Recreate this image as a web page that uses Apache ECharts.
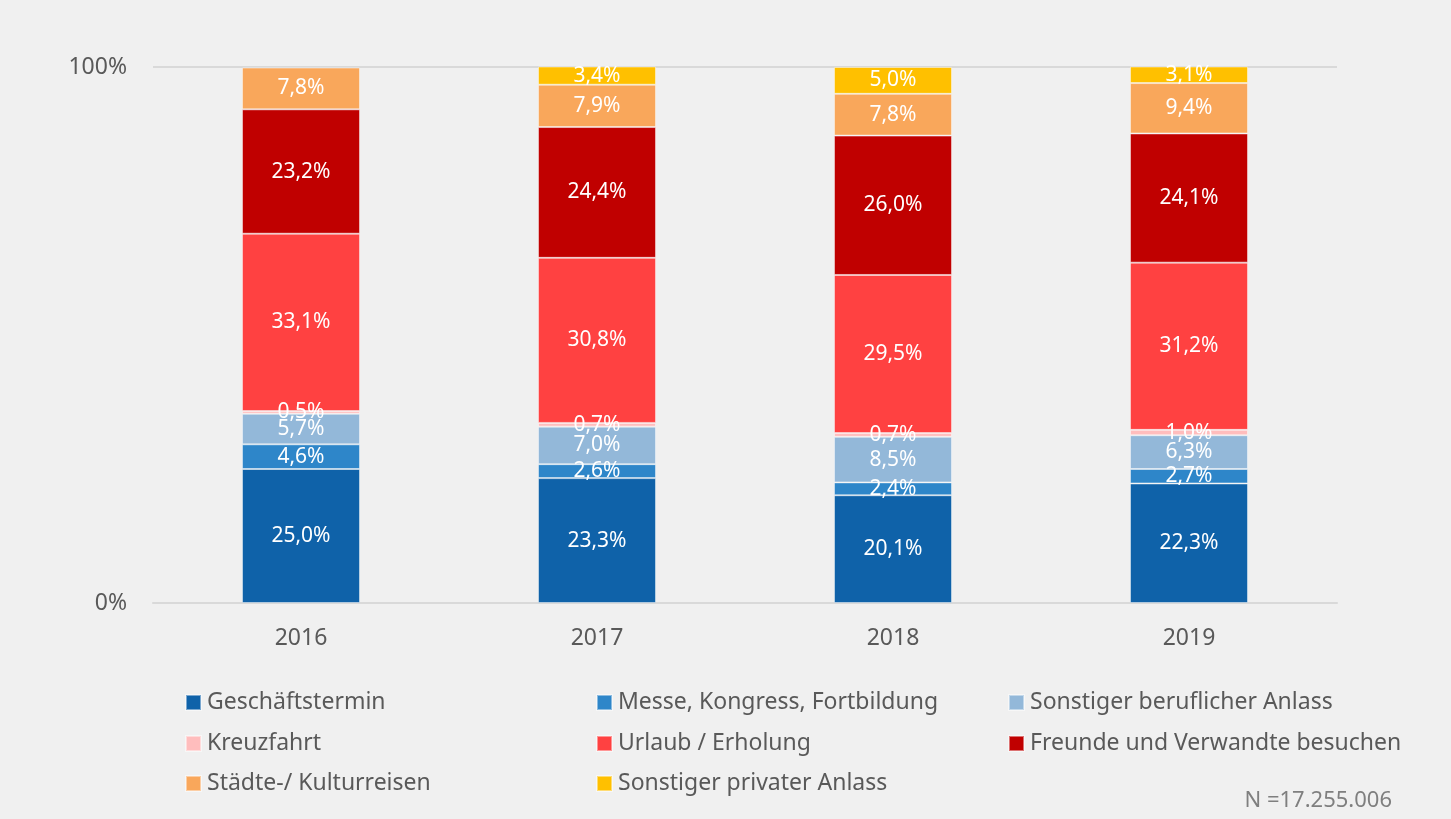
<!DOCTYPE html>
<html>
<head>
<meta charset="utf-8">
<script src="https://cdn.jsdelivr.net/npm/echarts@6/dist/echarts.min.js"></script>
<style>
  html, body { margin: 0; padding: 0; background: #f0f0f0; }
  #chart { width: 1451px; height: 819px; }
</style>
</head>
<body>
<div id="chart"></div>
<script>
const years = ['2016', '2017', '2018', '2019'];
const yTicks = ['0%', '100%'];

const geschaeftstermin = [25.0, 23.3, 20.1, 22.3];
const messe = [4.6, 2.6, 2.4, 2.7];
const sonstBeruflich = [5.7, 7.0, 8.5, 6.3];
const kreuzfahrt = [0.5, 0.7, 0.7, 1.0];
const urlaub = [33.1, 30.8, 29.5, 31.2];
const freunde = [23.2, 24.4, 26.0, 24.1];
const staedte = [7.8, 7.9, 7.8, 9.4];
const sonstPrivat = [null, 3.4, 5.0, 3.1];

const seriesDefs = [
    { name: 'Geschäftstermin', data: geschaeftstermin, color: '#0f62a9' },
    { name: 'Messe, Kongress, Fortbildung', data: messe, color: '#2e86c9' },
    { name: 'Sonstiger beruflicher Anlass', data: sonstBeruflich, color: '#93b8d9' },
    { name: 'Kreuzfahrt', data: kreuzfahrt, color: '#ffbdbd' },
    { name: 'Urlaub / Erholung', data: urlaub, color: '#ff4141' },
    { name: 'Freunde und Verwandte besuchen', data: freunde, color: '#c00000' },
    { name: 'Städte-/ Kulturreisen', data: staedte, color: '#f9a75b' },
    { name: 'Sonstiger privater Anlass', data: sonstPrivat, color: '#ffc000' }
];

// legend slots: [left, centerY]
const legendPos = [
    [185, 703], [596, 703], [1008, 703],
    [185, 744], [596, 744], [1008, 744],
    [185, 784], [596, 784]
];

let chart = echarts.init(document.getElementById('chart'));
const font = '"Noto Sans", "Open Sans", sans-serif';

let option = {
    backgroundColor: '#f0f0f0',
    textStyle: { fontFamily: font },
    grid: {
        left: 153,
        right: 114,
        top: 67,
        bottom: 216
    },
    legend: seriesDefs.map((s, i) => ({
        data: [s.name],
        left: legendPos[i][0],
        top: legendPos[i][1] - 12,
        padding: 0,
        icon: 'rect',
        itemWidth: 15,
        itemHeight: 15,
        selectedMode: false,
        textStyle: { color: '#595959', fontSize: 23, fontFamily: font, padding: [0, 0, 0, 1] }
    })),
    xAxis: {
        type: 'category',
        data: years,
        axisLine: { show: true, lineStyle: { color: '#d9d9d9', width: 2 } },
        axisTick: { show: false },
        axisLabel: { color: '#595959', fontSize: 23, margin: 24, fontFamily: font }
    },
    yAxis: {
        type: 'value',
        min: 0,
        max: 100,
        interval: 100,
        axisLine: { show: false },
        axisTick: { show: false },
        splitLine: { lineStyle: { color: '#d9d9d9', width: 2 } },
        axisLabel: {
            color: '#595959',
            fontSize: 23,
            margin: 26,
            fontFamily: font,
            formatter: v => yTicks[v === 0 ? 0 : 1]
        }
    },
    series: seriesDefs.map(s => ({
        name: s.name,
        type: 'bar',
        stack: 'total',
        barWidth: 118,
        data: s.data,
        itemStyle: { color: s.color, borderColor: 'rgba(255,255,255,0.45)', borderWidth: 1 },
        label: {
            show: true,
            position: 'inside',
            color: '#ffffff',
            fontSize: 21,
            fontFamily: font,
            formatter: p => p.value == null ? '' : p.value.toFixed(1).replace('.', ',') + '%'
        }
    })),
    graphic: [{
        type: 'text',
        right: 1451 - 1392,
        top: 790,
        style: {
            text: 'N =17.255.006',
            fill: '#7f7f7f',
            font: '22px "Noto Sans", sans-serif'
        }
    }]
};

chart.setOption(option);
</script>
</body>
</html>
